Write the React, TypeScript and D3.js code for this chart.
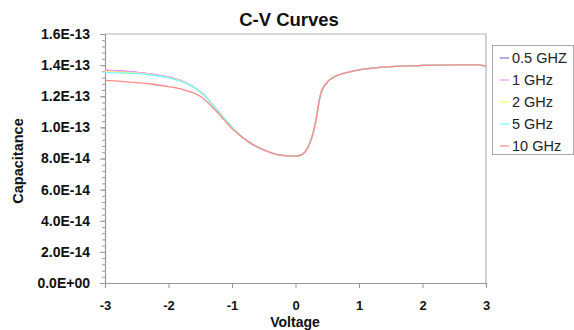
import * as d3 from 'd3';
import React, { useEffect, useRef } from 'react';

// voltage grid (V)
const voltage = [-3, -2.75, -2.5, -2.25, -2, -1.75, -1.5, -1.25, -1, -0.75, -0.5, -0.25, 0, 0.1, 0.2, 0.3, 0.4, 0.5, 0.6, 0.8, 1, 1.25, 1.5, 2, 2.5, 2.9, 3];

// capacitance values in units of 1E-13 F
const tail = [0.91, 0.855, 0.822, 0.815, 0.825, 0.875, 1.0, 1.22, 1.29, 1.322, 1.352, 1.37, 1.382, 1.39, 1.398, 1.402, 1.402, 1.39];
const c05 = [1.366, 1.361, 1.353, 1.341, 1.323, 1.29, 1.23, 1.12, 1.0, ...tail];
const c1 = [1.367, 1.362, 1.354, 1.342, 1.324, 1.291, 1.231, 1.121, 1.0, ...tail];
const c2 = [1.358, 1.355, 1.349, 1.338, 1.32, 1.288, 1.229, 1.12, 1.0, ...tail];
const c5 = [1.352, 1.35, 1.345, 1.335, 1.318, 1.287, 1.228, 1.119, 1.0, ...tail];
const c10 = [1.302, 1.296, 1.288, 1.277, 1.262, 1.24, 1.2, 1.105, 0.993, ...tail];

const seriesNames = ['0.5 GHZ', '1 GHz', '2 GHz', '5 GHz', '10 GHz'];
const seriesValues = [c05, c1, c2, c5, c10];
const seriesColors = ['#8c6fd6', '#ff8cff', '#ffff66', '#70ffff', '#ff8888'];

const yTicks = [0, 2e-14, 4e-14, 6e-14, 8e-14, 1e-13, 1.2e-13, 1.4e-13, 1.6e-13];
const xTicks = [-3, -2, -1, 0, 1, 2, 3];

const fmtSci = (v: number) => {
  const s = v.toExponential(1).toUpperCase();
  return s.replace(/E([+-])(\d)$/, 'E$10$2');
};

const App = () => {
  const ref = useRef<SVGSVGElement | null>(null);

  useEffect(() => {
    if (!ref.current) return;
    const svg = d3.select(ref.current);
    svg.selectAll('*').remove();

    const left = 105, right = 486, top = 34, bottom = 283;
    const font = 'Arial, "Liberation Sans", sans-serif';

    const x = d3.scaleLinear().domain([-3, 3]).range([left, right]);
    const y = d3.scaleLinear().domain([0, 1.6e-13]).range([bottom, top]);

    svg.append('rect').attr('width', 574).attr('height', 330).attr('fill', '#fff');

    // frame (top / right)
    svg.append('path')
      .attr('d', `M${left},${top}H${right}V${bottom}`)
      .attr('fill', 'none').attr('stroke', '#b4b4b4').attr('stroke-width', 1.2);

    // minor y ticks
    const minor = d3.range(0, 41).map((i) => i * 4e-15);
    svg.append('g').attr('transform', `translate(${left},0)`)
      .call(d3.axisLeft(y).tickValues(minor).tickSize(3).tickFormat(() => ''))
      .call((g) => g.select('.domain').remove())
      .call((g) => g.selectAll('line').attr('stroke', '#999'));

    // y axis
    const ya = svg.append('g').attr('transform', `translate(${left},0)`)
      .call(d3.axisLeft(y).tickValues(yTicks).tickSize(5).tickPadding(10).tickFormat((d) => fmtSci(+d)));
    ya.select('.domain').attr('stroke', '#999').attr('stroke-width', 1.2);
    ya.selectAll('line').attr('stroke', '#999');
    ya.selectAll('text').attr('font-family', font).attr('font-size', 14).attr('font-weight', 'bold').attr('fill', '#111');

    // x axis
    const xa = svg.append('g').attr('transform', `translate(0,${bottom})`)
      .call(d3.axisBottom(x).tickValues(xTicks).tickSize(5).tickPadding(13).tickFormat((d) => String(d)));
    xa.select('.domain').attr('stroke', '#999').attr('stroke-width', 1.2);
    xa.selectAll('line').attr('stroke', '#999');
    xa.selectAll('text').attr('font-family', font).attr('font-size', 13).attr('font-weight', 'bold').attr('fill', '#111');

    // curves
    const line = d3.line<number>()
      .x((_, i) => x(voltage[i]))
      .y((d) => y(d * 1e-13))
      .curve(d3.curveMonotoneX);

    seriesValues.forEach((vals, k) => {
      svg.append('path')
        .datum(vals)
        .attr('d', line)
        .attr('fill', 'none')
        .attr('stroke', seriesColors[k])
        .attr('stroke-width', 1.3);
    });

    // title and axis titles
    svg.append('text').attr('x', 289).attr('y', 26).attr('text-anchor', 'middle')
      .attr('font-family', font).attr('font-size', 18.5).attr('font-weight', 'bold').attr('fill', '#111')
      .text('C-V Curves');
    svg.append('text').attr('x', 295).attr('y', 327).attr('text-anchor', 'middle')
      .attr('font-family', font).attr('font-size', 14).attr('font-weight', 'bold').attr('fill', '#111')
      .text('Voltage');
    svg.append('text').attr('transform', 'translate(23,161) rotate(-90)').attr('text-anchor', 'middle')
      .attr('font-family', font).attr('font-size', 14.5).attr('font-weight', 'bold').attr('fill', '#111')
      .text('Capacitance');

    // legend
    const lg = svg.append('g').attr('transform', 'translate(492,45)');
    lg.append('rect').attr('x', 0.5).attr('y', 0.5).attr('width', 81).attr('height', 109)
      .attr('fill', '#fff').attr('stroke', '#aaa');
    seriesNames.forEach((name, k) => {
      const yy = 13 + k * 22;
      lg.append('line').attr('x1', 8).attr('x2', 17).attr('y1', yy).attr('y2', yy)
        .attr('stroke', seriesColors[k]).attr('stroke-width', 1.2);
      lg.append('text').attr('x', 20).attr('y', yy + 5)
        .attr('font-family', font).attr('font-size', 14.5).attr('fill', '#222')
        .text(name);
    });
  }, []);

  return <svg ref={ref} width={574} height={330} style={{ position: 'absolute', left: 0, top: 0 }} />;
};

export default App;
